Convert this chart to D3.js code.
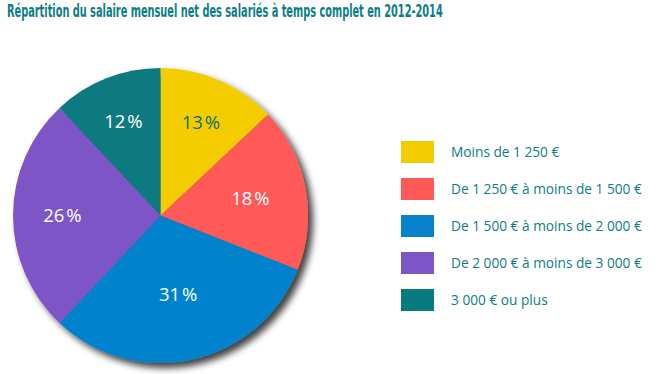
<!DOCTYPE html>
<html>
<head>
    <meta charset="utf-8">
    <title>Répartition du salaire mensuel net</title>
    <script src="https://d3js.org/d3.v7.min.js"></script>
    <style>
        body { margin: 0; background: #fff; }
    </style>
</head>
<body>
<script>
// Data
const categories = [
    "Moins de 1 250 €",
    "De 1 250 € à moins de 1 500 €",
    "De 1 500 € à moins de 2 000 €",
    "De 2 000 € à moins de 3 000 €",
    "3 000 € ou plus"
];
const shares = [13, 18, 31, 26, 12];
const colors = ["#f4cd00", "#ff5a58", "#0682cd", "#7d55c6", "#077a80"];
const labelColors = ["#0f6f5a", "#fff", "#fff", "#fff", "#fff"];
const title = "Répartition du salaire mensuel net des salariés à temps complet en 2012-2014";

const width = 665, height = 374;
const cx = 160.5, cy = 215.5, radius = 147.5;
const teal = "#0c7d86";

const svg = d3.select("body").append("svg")
    .attr("width", width)
    .attr("height", height);

// soft shadow bottom-right of the pie
const defs = svg.append("defs");
const filter = defs.append("filter").attr("id", "shadow")
    .attr("x", "-20%").attr("y", "-20%").attr("width", "140%").attr("height", "140%");
filter.append("feGaussianBlur").attr("in", "SourceAlpha").attr("stdDeviation", 3.5);
filter.append("feOffset").attr("dx", 5).attr("dy", 5).attr("result", "blur");
filter.append("feComponentTransfer").append("feFuncA").attr("type", "linear").attr("slope", 0.75);
const merge = filter.append("feMerge");
merge.append("feMergeNode");
merge.append("feMergeNode").attr("in", "SourceGraphic");

// Title: a narrow look, squeezed horizontally to the original's width
const titleText = svg.append("text")
    .attr("x", 0)
    .attr("y", 0)
    .attr("fill", teal)
    .attr("font-family", "'Liberation Sans Narrow', 'DejaVu Sans Condensed', 'Roboto', sans-serif")
    .attr("font-weight", "bold")
    .attr("font-size", 17.5)
    .text(title);
const natural = titleText.node().getComputedTextLength();
titleText.attr("transform", `translate(7,17) scale(${436 / natural},1)`);

// Pie
const pie = d3.pie().sort(null).value(d => d);
const arcs = pie(shares);
const arc = d3.arc().innerRadius(0).outerRadius(radius);

const g = svg.append("g").attr("transform", `translate(${cx},${cy})`);

g.append("g")
    .attr("filter", "url(#shadow)")
    .selectAll("path")
    .data(arcs)
    .join("path")
    .attr("d", arc)
    .attr("fill", (d, i) => colors[i]);

// label distance from centre, as a fraction of the radius
const labelR = [0.69, 0.62, 0.55, 0.665, 0.685];
g.selectAll("text.pct")
    .data(arcs)
    .join("text")
    .attr("class", "pct")
    .attr("transform", (d, i) => {
        const a = (d.startAngle + d.endAngle) / 2;
        const r = radius * labelR[i];
        return `translate(${Math.sin(a) * r},${-Math.cos(a) * r})`;
    })
    .attr("text-anchor", "middle")
    .attr("dy", "0.36em")
    .attr("fill", (d, i) => labelColors[i])
    .attr("font-family", "'Open Sans', 'Noto Sans', sans-serif")
    .attr("font-size", 18.5)
    .text(d => d.data + "\u200A%");

// Legend
const legend = svg.append("g").attr("transform", "translate(401,141)");
const rowY = d3.scalePoint().domain(d3.range(categories.length)).range([0, 148]);

const rows = legend.selectAll("g")
    .data(categories)
    .join("g")
    .attr("transform", (d, i) => `translate(0,${rowY(i)})`);

rows.append("rect")
    .attr("width", 33)
    .attr("height", 22)
    .attr("fill", (d, i) => colors[i]);

rows.append("text")
    .attr("x", 50)
    .attr("y", 11)
    .attr("dy", "0.35em")
    .attr("fill", teal)
    .attr("font-family", "'Open Sans', 'Noto Sans', sans-serif")
    .attr("font-weight", 500)
    .attr("font-size", 13.7)
    .text(d => d);
</script>
</body>
</html>
